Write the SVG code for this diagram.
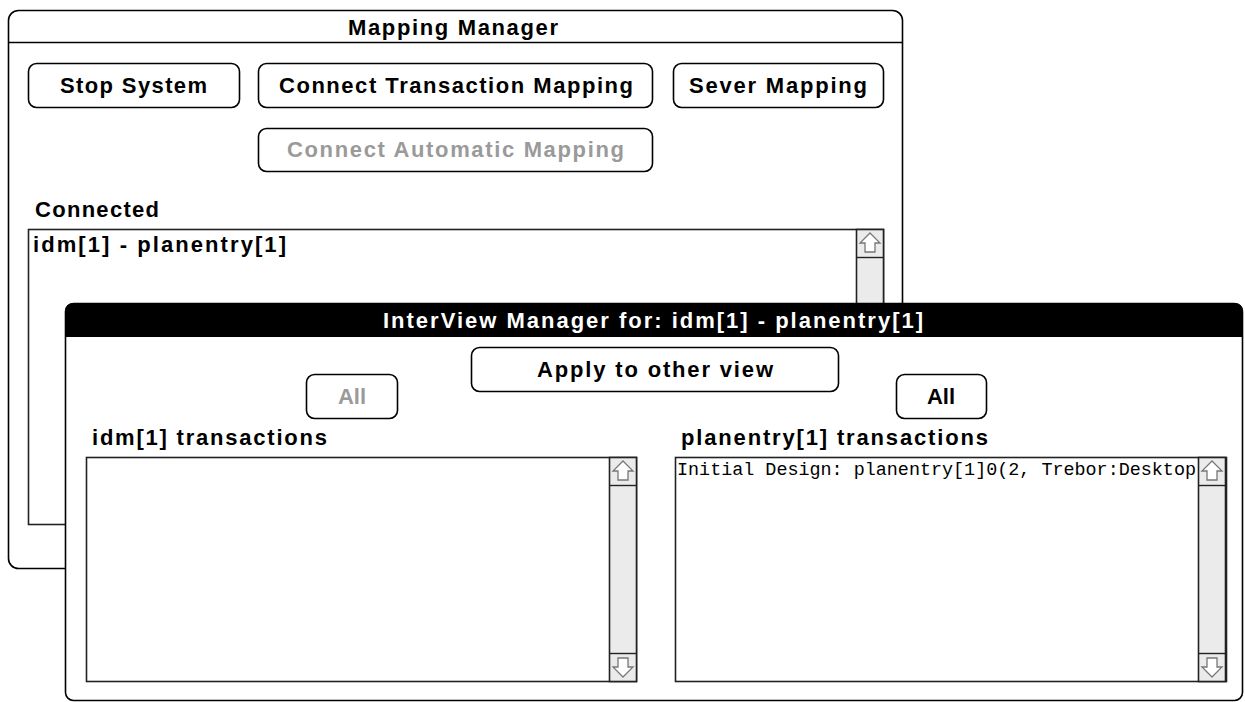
<svg xmlns="http://www.w3.org/2000/svg" xmlns:xlink="http://www.w3.org/1999/xlink" width="1245" height="702" viewBox="0 0 1245 702">
<style>
.win{fill:#fff;stroke:#000;stroke-width:1.6}
.btn{fill:#fff;stroke:#000;stroke-width:1.6}
.box{fill:#fff;stroke:#222;stroke-width:1.6}
.sb{fill:#ebebeb;stroke:#222;stroke-width:1.6}
.arr{fill:#fff;stroke:#777;stroke-width:1.3}
.t{font-family:"Liberation Sans",Arial,sans-serif;font-weight:bold;font-size:22px;fill:#000}
.dis{fill:#9a9a9a}
.wt{fill:#fff}
.mono{font-family:"Liberation Mono","Courier New",monospace;font-size:18px;fill:#000}
</style>
<defs>
<g id="up"><polygon class="arr" points="14,4 24,14 19,14 19,23 9,23 9,14 4,14"/></g>
<g id="down"><polygon class="arr" points="14,24 24,14 19,14 19,5 9,5 9,14 4,14"/></g>
</defs>
<rect width="1245" height="702" fill="#fff"/>

<g id="mapping-manager">
<rect class="win" x="8.5" y="10.5" width="894" height="558" rx="10"/>
<line x1="8" y1="42.5" x2="903" y2="42.5" stroke="#000" stroke-width="1.6"/>
<text class="t" x="348" y="35" textLength="210" lengthAdjust="spacing">Mapping Manager</text>
</g>

<g id="btn-stop">
<rect class="btn" x="28.5" y="63.5" width="211" height="44" rx="8"/>
<text class="t" x="60" y="93" textLength="147" lengthAdjust="spacing">Stop System</text>
</g>
<g id="btn-connect-transaction">
<rect class="btn" x="258.5" y="63.5" width="394" height="44" rx="8"/>
<text class="t" x="279" y="93" textLength="354" lengthAdjust="spacing">Connect Transaction Mapping</text>
</g>
<g id="btn-sever">
<rect class="btn" x="673.5" y="63.5" width="210" height="44" rx="8"/>
<text class="t" x="689" y="93" textLength="178" lengthAdjust="spacing">Sever Mapping</text>
</g>
<g id="btn-connect-automatic">
<rect class="btn" x="258.5" y="128.5" width="394" height="43" rx="8"/>
<text class="t dis" x="287" y="157" textLength="337" lengthAdjust="spacing">Connect Automatic Mapping</text>
</g>

<g id="connected-list">
<text class="t" x="35" y="217" textLength="124" lengthAdjust="spacing">Connected</text>
<rect class="box" x="28.5" y="229.5" width="855" height="295"/>
<rect class="sb" x="856.5" y="229.5" width="27" height="295"/>
<line x1="856" y1="257.5" x2="884" y2="257.5" stroke="#222" stroke-width="1.4"/>
<use xlink:href="#up" transform="translate(856,229)"/>
<text class="t" x="33" y="252" textLength="253" lengthAdjust="spacing">idm[1] - planentry[1]</text>
</g>

<g id="interview-manager">
<rect class="win" x="65.5" y="303.5" width="1177" height="397" rx="8"/>
<path d="M65,337 V312 Q65,303 74,303 H1234 Q1243,303 1243,312 V337 Z" fill="#000"/>
<text class="t wt" x="383" y="328" textLength="540" lengthAdjust="spacing">InterView Manager for: idm[1] - planentry[1]</text>
</g>

<g id="btn-apply">
<rect class="btn" x="471.5" y="347.5" width="367" height="44" rx="8"/>
<text class="t" x="537" y="377" textLength="236" lengthAdjust="spacing">Apply to other view</text>
</g>
<g id="btn-all-left">
<rect class="btn" x="306.5" y="374.5" width="91" height="44" rx="8"/>
<text class="t dis" x="352" y="404" text-anchor="middle">All</text>
</g>
<g id="btn-all-right">
<rect class="btn" x="896.5" y="374.5" width="90" height="44" rx="8"/>
<text class="t" x="941" y="404" text-anchor="middle">All</text>
</g>

<g id="idm-transactions">
<text class="t" x="92" y="445" textLength="235" lengthAdjust="spacing">idm[1] transactions</text>
<rect class="box" x="86.5" y="457.5" width="550" height="224"/>
<rect class="sb" x="609.5" y="457.5" width="27" height="224"/>
<line x1="609" y1="485.5" x2="637" y2="485.5" stroke="#222" stroke-width="1.4"/>
<line x1="609" y1="653.5" x2="637" y2="653.5" stroke="#222" stroke-width="1.4"/>
<use xlink:href="#up" transform="translate(609,457)"/>
<use xlink:href="#down" transform="translate(609,653)"/>
</g>

<g id="planentry-transactions">
<text class="t" x="681" y="445" textLength="307" lengthAdjust="spacing">planentry[1] transactions</text>
<rect class="box" x="675.5" y="457.5" width="551" height="224"/>
<text class="mono" x="677" y="475" textLength="519" lengthAdjust="spacingAndGlyphs">Initial Design: planentry[1]0(2, Trebor:Desktop</text>
<rect class="sb" x="1198.5" y="457.5" width="27" height="224"/>
<line x1="1198" y1="485.5" x2="1226" y2="485.5" stroke="#222" stroke-width="1.4"/>
<line x1="1198" y1="653.5" x2="1226" y2="653.5" stroke="#222" stroke-width="1.4"/>
<use xlink:href="#up" transform="translate(1198,457)"/>
<use xlink:href="#down" transform="translate(1198,653)"/>
</g>
</svg>
